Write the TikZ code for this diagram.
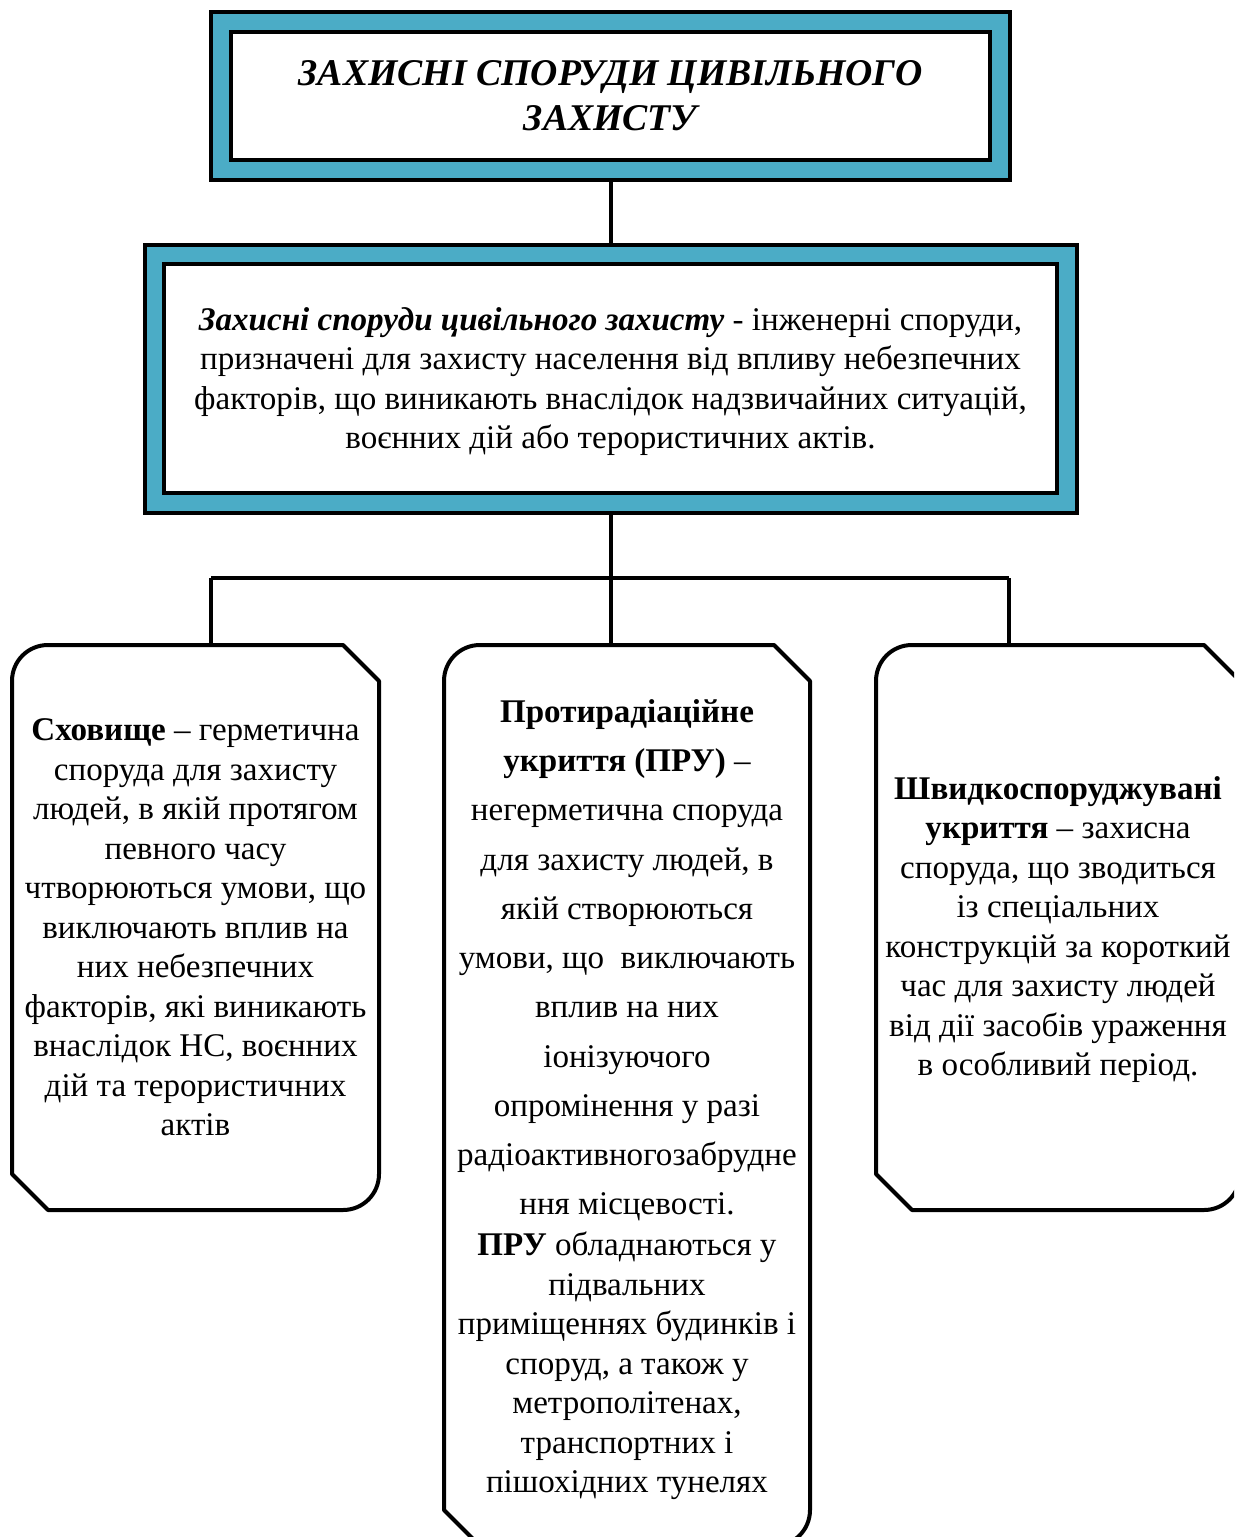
\documentclass[tikz,border=0pt]{standalone}
\usepackage{fontspec}
\setmainfont{Liberation Serif}
\usetikzlibrary{calc}
\definecolor{tealframe}{RGB}{75,172,198}
\tikzset{
 every node/.style={inner sep=0pt, outer sep=0pt},
 frame/.style={draw=black, line width=3pt, fill=tealframe},
 innerbox/.style={draw=black, line width=3pt, fill=white, align=center},
 conn/.style={draw=black, line width=3pt},
 boxline/.style={draw=black, line width=3pt, line join=round},
 txt/.style={font=\fontsize{24.8}{29.6}\selectfont, align=center},
}
\newcommand\bs{\\[7.35pt]}
\newcommand\octbox[1]{%
 \draw[boxline] ($(#1.north west)+(36,0)$) -- ($(#1.north east)+(-36,0)$) -- ($(#1.north east)+(0,36)$) -- ($(#1.south east)+(0,-36)$) .. controls ($(#1.south east)+(0,-16)$) and ($(#1.south east)+(-16,0)$) .. ($(#1.south east)+(-36,0)$) -- ($(#1.south west)+(36,0)$) -- ($(#1.south west)+(0,-36)$) -- ($(#1.north west)+(0,36)$) .. controls ($(#1.north west)+(0,16)$) and ($(#1.north west)+(16,0)$) .. ($(#1.north west)+(36,0)$) -- cycle;}
\begin{document}
\begin{tikzpicture}[x=0.75pt,y=-0.75pt]
\useasboundingbox (0,0) rectangle (1234,1537);
\clip (0,0) rectangle (1234,1537);
% title
\node[frame, minimum width=799*0.75pt, minimum height=168*0.75pt] (titleframe) at (610.5,96) {};
\node[innerbox, minimum width=759*0.75pt, minimum height=128*0.75pt, font=\fontsize{28.3}{33.75}\selectfont\bfseries\itshape] (title) at (610.5,96) {ЗАХИСНІ СПОРУДИ ЦИВІЛЬНОГО\\ЗАХИСТУ};
% definition
\node[frame, minimum width=932*0.75pt, minimum height=268*0.75pt] (defframe) at (611,379) {};
\node[innerbox, minimum width=893*0.75pt, minimum height=229*0.75pt] (definition) at (610.5,378.5) {};
\node[txt] (deftext) at (610.5,381.5) {\textbf{\textit{Захисні споруди цивільного захисту}} - інженерні споруди,\\призначені для захисту населення від впливу небезпечних\\факторів, що виникають внаслідок надзвичайних ситуацій,\\воєнних дій або терористичних актів.};
% three boxes
\node[minimum width=367*0.75pt, minimum height=565*0.75pt] (shelter) at (195.5,927.5) {};
\node[minimum width=366*0.75pt, minimum height=901*0.75pt] (pru) at (627,1095.5) {};
\node[minimum width=364*0.75pt, minimum height=565*0.75pt] (fast) at (1058,927.5) {};
\node[txt] (sheltertext) at (195.5,927.5) {\textbf{Сховище} – герметична\\споруда для захисту\\людей, в якій протягом\\певного часу\\чтворюються умови, що\\виключають вплив на\\них небезпечних\\факторів, які виникають\\внаслідок НС, воєнних\\дій та терористичних\\актів};
\node[txt] (prutext) at (627,1099.5) {\textbf{Протирадіаційне}\bs\textbf{укриття (ПРУ)} –\bs негерметична споруда\bs для захисту людей, в\bs якій створюються\bs умови, що~ виключають\bs вплив на них\bs іонізуючого\bs опромінення у разі\bs радіоактивногозабрудне\bs ння місцевості.\\[1.1pt]\textbf{ПРУ} обладнаються у\\підвальних\\приміщеннях будинків і\\споруд, а також у\\метрополітенах,\\транспортних і\\пішохідних тунелях};
\node[txt] (fasttext) at (1058,929.5) {\textbf{Швидкоспоруджувані}\\\textbf{укриття} – захисна\\споруда, що зводиться\\із спеціальних\\конструкцій за короткий\\час для захисту людей\\від дії засобів ураження\\в особливий період.};
\octbox{shelter}
\octbox{pru}
\octbox{fast}
% connectors
\coordinate (jl) at (211,578);
\coordinate (jr) at (1009,578);
\draw[conn] (titleframe.south) -- (titleframe.south |- defframe.north);
\draw[conn] (defframe.south) -- (defframe.south |- pru.north);
\draw[conn] (jl) -- (jr);
\draw[conn] (jl) -- (jl |- shelter.north);
\draw[conn] (jr) -- (jr |- fast.north);
\end{tikzpicture}
\end{document}
